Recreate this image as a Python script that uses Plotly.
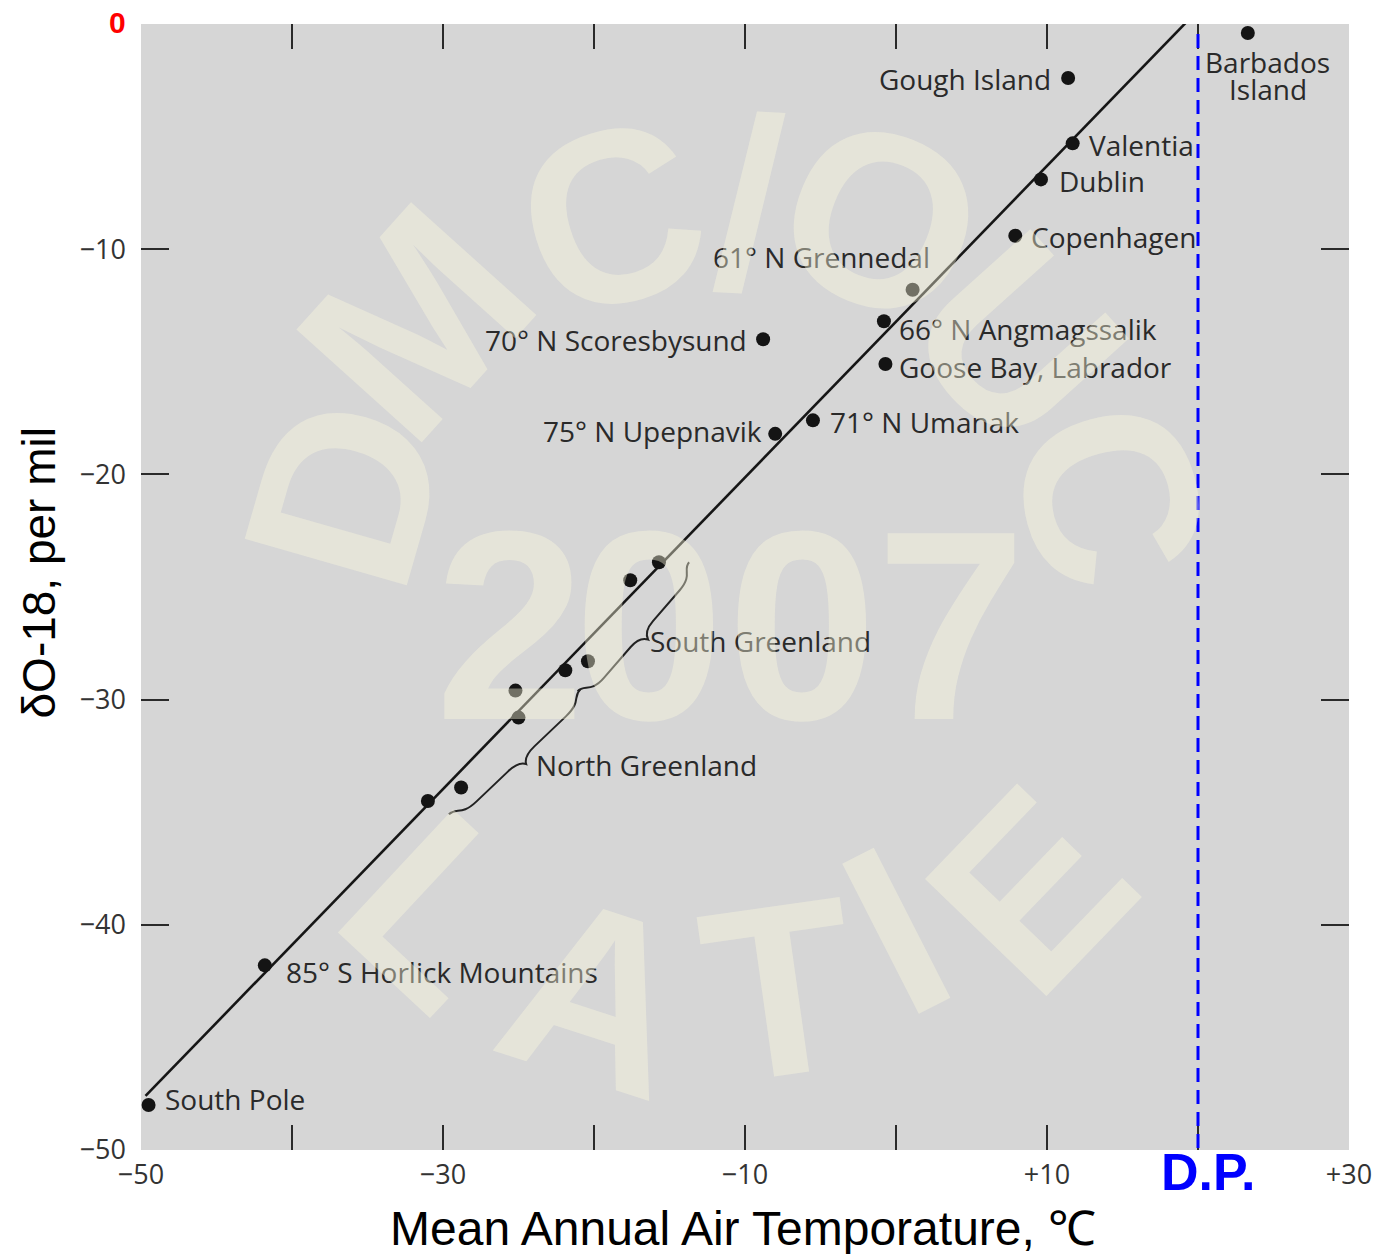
import plotly.graph_objects as go

# ---------------- data ----------------
site_names = ["South Pole", "85° S Horlick Mountains", "75° N Upepnavik", "71° N Umanak",
              "70° N Scoresbysund", "Goose Bay, Labrador", "66° N Angmagssalik",
              "61° N Grennedal", "Copenhagen", "Dublin", "Valentia", "Gough Island",
              "Barbados<br>Island"]
site_temp = [-49.5, -41.8, -8.0, -5.5, -8.8, -0.7, -0.8, 1.1, 7.9, 9.6, 11.7, 11.4, 23.3]
site_d18o = [-48.0, -41.8, -18.2, -17.6, -14.0, -15.1, -13.2, -11.8, -9.4, -6.9, -5.3, -2.4, -0.4]

greenland_temp = [-31.0, -28.8, -25.2, -25.0, -21.9, -20.4, -17.6, -15.7]
greenland_d18o = [-34.5, -33.9, -29.6, -30.8, -28.7, -28.3, -24.7, -23.9]

fit_temp = [-49.7, 19.4]
fit_d18o = [-47.6, 0.2]

dp_temp = 20

x_major = [-40, -30, -20, -10, 0, 10, 20]
x_label_vals = [-50, -30, -10, 10, 30]
x_label_text = ["−50", "−30", "−10", "+10", "+30"]
y_major = [-40, -30, -20, -10]
y_label_vals = [-50, -40, -30, -20, -10]
y_label_text = ["−50", "−40", "−30", "−20", "−10"]

# label placement (style): anchor, xshift, yshift of first line
label_style = {
    "South Pole": ("left", 14, 6),
    "85° S Horlick Mountains": ("left", 19, -7),
    "75° N Upepnavik": ("right", -11, 3),
    "71° N Umanak": ("left", 15, -2),
    "70° N Scoresbysund": ("right", -14, -1),
    "Goose Bay, Labrador": ("left", 12, -3),
    "66° N Angmagssalik": ("left", 13, -8),
    "61° N Grennedal": ("right", 19, 33),
    "Copenhagen": ("left", 14, -1),
    "Dublin": ("left", 16, -2),
    "Valentia": ("left", 14, -2),
    "Gough Island": ("right", -15, -1),
    "Barbados<br>Island": ("center", 20, -29),
}
LINE_STEP = 27

# ---------------- geometry helpers ----------------
W, H = 1384, 1254
L_M, R_M, T_M, B_M = 141, 29, 24, 104
XR = [-50, 30]
YR = [-50, 0]
pw = W - L_M - R_M
ph = H - T_M - B_M


def px2data(px, py):
    x = XR[0] + (px - L_M) / pw * (XR[1] - XR[0])
    y = YR[1] - (py - T_M) / ph * (YR[1] - YR[0])
    return x, y


def px2paper(px, py):
    return (px - L_M) / pw, 1 - (py - T_M) / ph


def brace_path(p0, p1, h):
    import math
    dx, dy = p1[0] - p0[0], p1[1] - p0[1]
    L = math.hypot(dx, dy)
    ux, uy = dx / L, dy / L
    nx, ny = -uy, ux
    mx, my = (p0[0] + p1[0]) / 2, (p0[1] + p1[1]) / 2

    def P(bx, by, a=0.0, b=0.0):
        return (bx + ux * a + nx * b, by + uy * a + ny * b)

    pts = [
        ("M", [P(*p0, 0, -h * 0.6)]),
        ("C", [P(*p0, L * 0.06, -h * 0.6), P(*p0, L * 0.04, h), P(*p0, L * 0.16, h)]),
        ("L", [P(mx, my, -L * 0.1, h)]),
        ("Q", [P(mx, my, -L * 0.02, h), P(mx, my, 0, 2.2 * h)]),
        ("Q", [P(mx, my, L * 0.02, h), P(mx, my, L * 0.1, h)]),
        ("L", [P(*p1, -L * 0.16, h)]),
        ("C", [P(*p1, -L * 0.04, h), P(*p1, -L * 0.06, -h * 0.6), P(*p1, 0, -h * 0.6)]),
    ]
    s = ""
    for cmd, cps in pts:
        s += cmd + " " + " ".join("%.4f,%.4f" % px2data(*c) for c in cps) + " "
    return s.strip()


TXT_FONT = "Open Sans"
TXT_COLOR = "#2a2a2a"
TXT_SIZE = 28

fig = go.Figure()

# regression line
fig.add_trace(go.Scatter(x=fit_temp, y=fit_d18o, mode="lines",
                         line=dict(color="#161616", width=2.6), hoverinfo="skip",
                         showlegend=False))
# Greenland stations
fig.add_trace(go.Scatter(x=greenland_temp, y=greenland_d18o, mode="markers",
                         marker=dict(size=14, color="#141414"), showlegend=False))
# named stations
fig.add_trace(go.Scatter(x=site_temp, y=site_d18o, mode="markers",
                         marker=dict(size=14, color="#141414"), text=site_names,
                         showlegend=False))
# invisible trace for label axes
fig.add_trace(go.Scatter(x=[XR[0]], y=[YR[0]], xaxis="x2", yaxis="y2", mode="markers",
                         marker=dict(opacity=0), hoverinfo="skip", showlegend=False))

annotations = []
for name, t, d in zip(site_names, site_temp, site_d18o):
    anc, xs, ys = label_style[name]
    for i, line in enumerate(name.split("<br>")):
        annotations.append(dict(x=t, y=d, xref="x", yref="y", text=line, showarrow=False,
                                xanchor=anc, yanchor="middle", xshift=xs,
                                yshift=ys - i * LINE_STEP,
                                font=dict(family=TXT_FONT, size=TXT_SIZE, color=TXT_COLOR)))

sg = px2data(651, 641)
ng = px2data(536, 765)
annotations.append(dict(x=sg[0], y=sg[1], text="South Greenland", showarrow=False,
                        xanchor="left", yanchor="middle",
                        font=dict(family=TXT_FONT, size=TXT_SIZE, color=TXT_COLOR)))
annotations.append(dict(x=ng[0], y=ng[1], text="North Greenland", showarrow=False,
                        xanchor="left", yanchor="middle",
                        font=dict(family=TXT_FONT, size=TXT_SIZE, color=TXT_COLOR)))

# red zero label
zx, zy = px2paper(117, 22)
annotations.append(dict(x=zx, y=zy, xref="paper", yref="paper", text="<b>0</b>",
                        showarrow=False, xanchor="center", yanchor="middle",
                        font=dict(family="Liberation Sans", size=30, color="#ff0000")))

# D.P. label
dx_, dy_ = px2paper(1213, 1172)
annotations.append(dict(x=dx_, y=dy_, xref="paper", yref="paper", text="<b>D.P.</b>",
                        showarrow=False, xanchor="center", yanchor="middle",
                        font=dict(family="Liberation Sans", size=52, color="#0000ff")))

# axis titles
tx, ty = px2paper(746, 1228)
annotations.append(dict(x=tx, y=ty, xref="paper", yref="paper",
                        text="Mean Annual Air Temporature, ℃", showarrow=False,
                        xanchor="center", yanchor="middle",
                        font=dict(family="Liberation Sans", size=48, color="#000000")))
yx, yy = px2paper(38, 573)
annotations.append(dict(x=yx, y=yy, xref="paper", yref="paper",
                        text="δO-18, per mil", showarrow=False, textangle=-90,
                        xanchor="center", yanchor="middle",
                        font=dict(family="Liberation Sans", size=46, color="#000000")))

# watermark (semi-transparent, on top like the original)
wm_color = "rgba(252,250,222,0.4)"
wm = [("D", 346, 492, -74, 245), ("M", 417, 322, -48, 245), ("C", 614, 217, -17, 245),
      ("/", 752, 204, 3, 245), ("O", 885, 220, 22, 245), ("U", 1022, 340, 48, 245),
      ("C", 1115, 495, 75, 245),
      ("2", 512, 625, 0, 270), ("0", 652, 625, 0, 270), ("0", 805, 625, 0, 270),
      ("7", 955, 625, 0, 270),
      ("L", 440, 910, 43, 245), ("A", 600, 995, 18, 245), ("T", 783, 990, -8, 245),
      ("I", 900, 930, -27, 245), ("E", 1035, 890, -46, 245)]
for ch, px, py, ang, sz in wm:
    ax_, ay_ = px2paper(px, py)
    annotations.append(dict(x=ax_, y=ay_, xref="paper", yref="paper", text="<b>%s</b>" % ch,
                            showarrow=False, xanchor="center", yanchor="middle",
                            textangle=ang,
                            font=dict(family="Liberation Sans", size=sz, color=wm_color)))

shapes = [
    dict(type="line", xref="x", yref="paper", x0=dp_temp, x1=dp_temp,
         y0=px2paper(0, 1148)[1], y1=px2paper(0, 31)[1],
         line=dict(color="#0000ff", width=3, dash="14px,8px")),
    dict(type="path", path=brace_path((453, 817), (585, 692), 6),
         line=dict(color="#222222", width=2)),
    dict(type="path", path=brace_path((583, 694), (695, 565), 7),
         line=dict(color="#222222", width=2)),
]

tick_font = dict(family=TXT_FONT, size=27, color="#333333")

fig.update_layout(
    width=W, height=H,
    margin=dict(l=L_M, r=R_M, t=T_M, b=B_M, pad=0),
    paper_bgcolor="#ffffff",
    plot_bgcolor="#d6d6d6",
    showlegend=False,
    xaxis=dict(range=XR, tickmode="array", tickvals=x_major, ticks="inside",
               ticklen=25, tickwidth=2, tickcolor="#2a2a2a", showticklabels=False,
               mirror="ticks", showline=False, showgrid=False, zeroline=False),
    yaxis=dict(range=YR, tickmode="array", tickvals=y_major, ticks="inside",
               ticklen=28, tickwidth=2, tickcolor="#2a2a2a", showticklabels=False,
               mirror="ticks", showline=False, showgrid=False, zeroline=False),
    xaxis2=dict(range=XR, overlaying="x", anchor="y2", side="bottom", tickmode="array",
                tickvals=x_label_vals, ticktext=x_label_text, ticks="",
                showgrid=False, zeroline=False, showline=False, tickfont=tick_font,
                ticklabelstandoff=6),
    yaxis2=dict(range=YR, overlaying="y", anchor="x2", side="left", tickmode="array",
                tickvals=y_label_vals, ticktext=y_label_text, ticks="",
                showgrid=False, zeroline=False, showline=False, tickfont=tick_font,
                ticklabelstandoff=14),
    annotations=annotations,
    shapes=shapes,
)

fig.write_html("out.html")
